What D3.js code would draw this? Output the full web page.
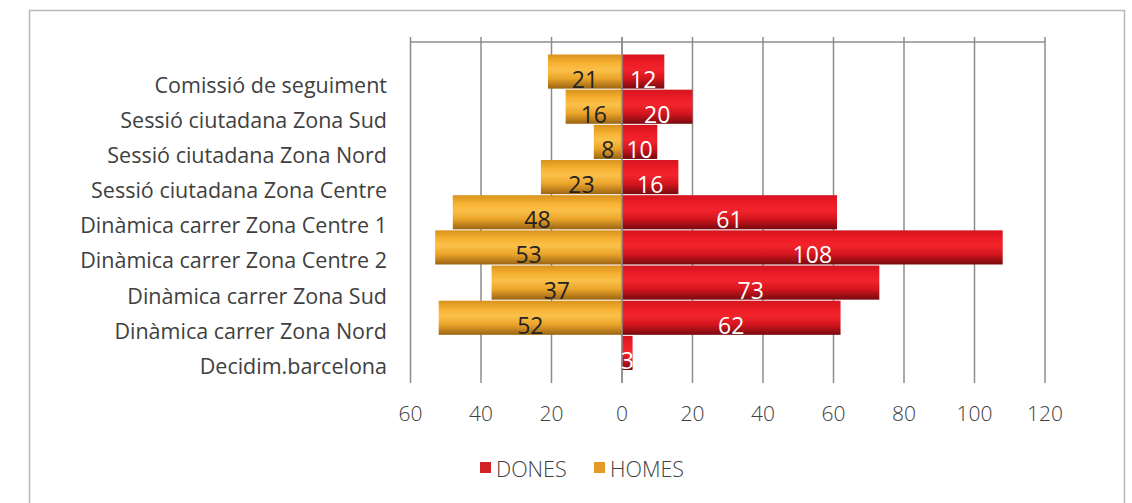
<!DOCTYPE html>
<html><head><meta charset="utf-8">
<script src="https://cdn.jsdelivr.net/npm/d3@7"></script>
<style>body{margin:0;background:#fff;} svg{display:block;}</style>
</head><body>
<svg id="c" width="1132" height="503"></svg>
<script>
const categories = ["Comissió de seguiment","Sessió ciutadana Zona Sud","Sessió ciutadana Zona Nord","Sessió ciutadana Zona Centre","Dinàmica carrer Zona Centre 1","Dinàmica carrer Zona Centre 2","Dinàmica carrer Zona Sud","Dinàmica carrer Zona Nord","Decidim.barcelona"];
const dones = [12,20,10,16,61,108,73,62,3];
const homes = [21,16,8,23,48,53,37,52,null];
const tickValues = [-60,-40,-20,0,20,40,60,80,100,120];
const seriesNames = ["DONES","HOMES"];

const svg = d3.select("#c");
const font = "'Open Sans', 'Liberation Sans', sans-serif";
const txt = "#404040";

// outer frame
svg.append("rect").attr("x",29.5).attr("y",10.5).attr("width",1095).attr("height",520)
  .attr("fill","#fff").attr("stroke","#b8b8b8").attr("stroke-width",1.5);

const x = d3.scaleLinear().domain([-60,120]).range([410.5,1045]);
const y = d3.scaleBand().domain(categories).range([54.5,370]).paddingInner(0.03).paddingOuter(0);

const defs = svg.append("defs");
function grad(id, stops){
  const g = defs.append("linearGradient").attr("id",id).attr("x1",0).attr("y1",0).attr("x2",0).attr("y2",1);
  stops.forEach(s=>g.append("stop").attr("offset",s[0]).attr("stop-color",s[1]));
}
grad("gO",[[0,"#d8921c"],[0.25,"#f6b232"],[0.45,"#fbc04a"],[0.7,"#eaa42a"],[1,"#9a6412"]]);
grad("gR",[[0,"#d41420"],[0.25,"#ee1c26"],[0.45,"#f2242c"],[0.7,"#d4151e"],[1,"#760a0f"]]);

// grid
const grid = svg.append("g");
grid.selectAll("line.v").data(tickValues).join("line")
  .attr("x1",d=>x(d)).attr("x2",d=>x(d)).attr("y1",37).attr("y2",383)
  .attr("stroke","#8c8c8c").attr("stroke-width",1.5);
grid.append("line").attr("x1",x(-60)).attr("x2",x(120)).attr("y1",42).attr("y2",42)
  .attr("stroke","#8c8c8c").attr("stroke-width",1.5);

// bars
const bars = svg.append("g");
const homesData = categories.map((c,i)=>({c,v:homes[i]})).filter(d=>d.v!=null);
const donesData = categories.map((c,i)=>({c,v:dones[i]}));
bars.selectAll("rect.h").data(homesData).join("rect")
  .attr("x",d=>x(-d.v)).attr("width",d=>x(0)-x(-d.v))
  .attr("y",d=>y(d.c)).attr("height",y.bandwidth()).attr("fill","url(#gO)");
bars.selectAll("rect.d").data(donesData).join("rect")
  .attr("x",x(0)).attr("width",d=>x(d.v)-x(0))
  .attr("y",d=>y(d.c)).attr("height",y.bandwidth()).attr("fill","url(#gR)");
// zero line over bars
svg.append("line").attr("x1",x(0)).attr("x2",x(0)).attr("y1",37).attr("y2",383)
  .attr("stroke","#8c8c8c").attr("stroke-width",1.5);

// value labels
const lab = svg.append("g").attr("font-family",font).attr("font-size",23).attr("font-weight",500).attr("text-anchor","middle");
lab.selectAll("text.h").data(homesData).join("text")
  .attr("x",d=>(x(-d.v)+x(0))/2).attr("y",d=>y(d.c)+y.bandwidth()/2+16)
  .attr("fill","#222").text(d=>d.v);
lab.selectAll("text.d").data(donesData).join("text")
  .attr("x",d=>(x(d.v)+x(0))/2).attr("y",d=>y(d.c)+y.bandwidth()/2+16)
  .attr("fill","#fff").text(d=>d.v);

// category labels
svg.append("g").attr("font-family",font).attr("font-size",21.5).attr("text-anchor","end").attr("fill",txt)
  .selectAll("text").data(categories).join("text")
  .attr("x",387).attr("y",d=>y(d)+y.bandwidth()/2+21).text(d=>d);

// x axis tick labels
svg.append("g").attr("font-family",font).attr("font-size",21).attr("font-weight",300).attr("text-anchor","middle").attr("fill",txt)
  .selectAll("text").data(tickValues).join("text")
  .attr("x",d=>x(d)).attr("y",421).text(d=>Math.abs(d));

// legend
const leg = svg.append("g").attr("font-family",font).attr("font-size",21.5).attr("font-weight",300).attr("fill",txt);
const legColors = ["#d42027","#e49a25"];
const legX = [480,594];
seriesNames.forEach((n,i)=>{
  leg.append("rect").attr("x",legX[i]).attr("y",462).attr("width",11).attr("height",11).attr("fill",legColors[i]);
  leg.append("text").attr("x",legX[i]+16).attr("y",477).text(n);
});
</script>
</body></html>
